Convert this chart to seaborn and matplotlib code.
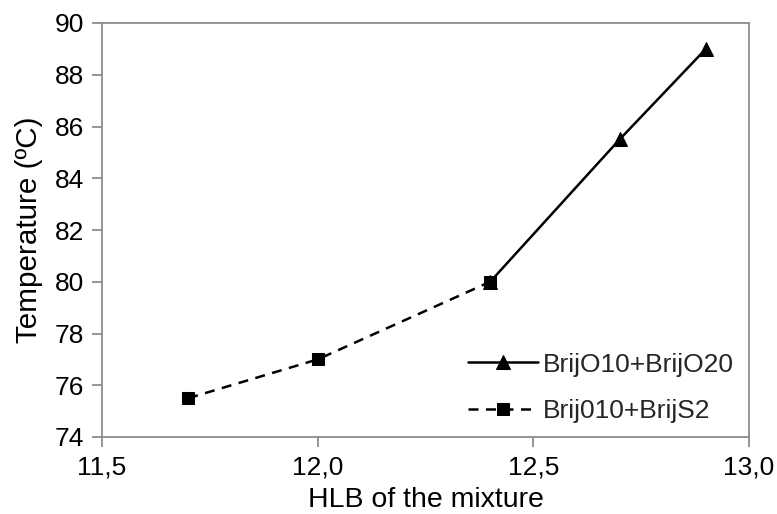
import matplotlib
matplotlib.use("Agg")
import matplotlib.pyplot as plt
import seaborn as sns
import pandas as pd
from matplotlib.ticker import FuncFormatter, MultipleLocator

sns.set_theme(style="white")
plt.rcParams['font.family'] = ['Liberation Sans', 'DejaVu Sans']

x_o = [12.4, 12.7, 12.9]
y_o = [80.0, 85.5, 89.0]
x_s = [11.7, 12.0, 12.4]
y_s = [75.5, 77.0, 80.0]
label_o = "BrijO10+BrijO20"
label_s = "Brij010+BrijS2"

df_o = pd.DataFrame({"x": x_o, "y": y_o})
df_s = pd.DataFrame({"x": x_s, "y": y_s})

fig = plt.figure(figsize=(7.77, 5.14), dpi=100)
ax = fig.add_axes([102/777, 1 - 437/514, (749-102)/777, (437-23)/514])

sns.lineplot(data=df_o, x="x", y="y", ax=ax, color="black", marker="^", markersize=10,
             linewidth=1.8, markeredgecolor="black", label=label_o)
sns.lineplot(data=df_s, x="x", y="y", ax=ax, color="black", marker="s", markersize=8,
             linewidth=1.8, linestyle=(0, (4, 3)), markeredgecolor="black", label=label_s)

ax.set_xlim(11.5, 13.0)
ax.set_ylim(74, 90)
ax.xaxis.set_major_locator(MultipleLocator(0.5))
ax.yaxis.set_major_locator(MultipleLocator(2))
ax.xaxis.set_major_formatter(FuncFormatter(lambda v, p: f"{v:.1f}".replace(".", ",")))
ax.yaxis.set_major_formatter(FuncFormatter(lambda v, p: f"{v:.0f}"))

for s in ax.spines.values():
    s.set_visible(True)
    s.set_color("#8c8c8c")
    s.set_linewidth(1.3)
ax.tick_params(axis="both", which="major", direction="out", length=7, width=1.3,
               color="#8c8c8c", labelsize=19, labelcolor="black", left=True, bottom=True, pad=6)

ax.set_xlabel("HLB of the mixture", fontsize=20.5, color="black", labelpad=6)
ax.set_ylabel("Temperature (ºC)", fontsize=21.3, color="black", labelpad=8)

leg = ax.legend(loc="lower right", bbox_to_anchor=(0.993, 0.008), frameon=False, fontsize=19,
                handlelength=2.65, handletextpad=0.2, labelspacing=0.85, borderaxespad=0.0)

fig.savefig("out.png", dpi=100)
